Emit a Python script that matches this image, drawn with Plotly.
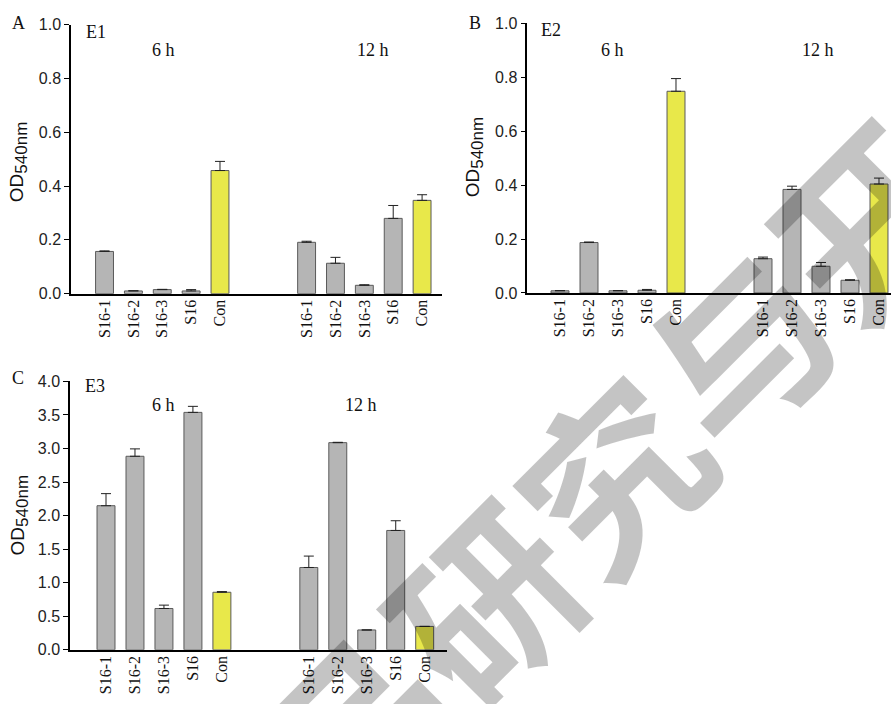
import plotly.graph_objects as go

W, H = 891, 704

# ---------------- data ----------------
samples = ["S16-1", "S16-2", "S16-3", "S16", "Con"]
times = ["6 h", "12 h"]

e1_6h = [0.157, 0.010, 0.015, 0.010, 0.458]
e1_6h_err = [0.002, 0.001, 0.001, 0.005, 0.034]
e1_12h = [0.191, 0.113, 0.031, 0.280, 0.347]
e1_12h_err = [0.004, 0.022, 0.002, 0.048, 0.021]

e2_6h = [0.008, 0.187, 0.008, 0.010, 0.748]
e2_6h_err = [0.001, 0.002, 0.001, 0.003, 0.047]
e2_12h = [0.127, 0.384, 0.099, 0.047, 0.404]
e2_12h_err = [0.006, 0.012, 0.014, 0.002, 0.022]

e3_6h = [2.148, 2.885, 0.616, 3.539, 0.858]
e3_6h_err = [0.18, 0.11, 0.05, 0.09, 0.01]
e3_12h = [1.227, 3.088, 0.296, 1.779, 0.349]
e3_12h_err = [0.17, 0.005, 0.0, 0.145, 0.0]

ticks_01 = [0.0, 0.2, 0.4, 0.6, 0.8, 1.0]
ticks_04 = [0.0, 0.5, 1.0, 1.5, 2.0, 2.5, 3.0, 3.5, 4.0]

# ---------------- styling ----------------
GRAY = "#b5b5b5"
YELLOW = "#e8e84a"
EDGE = "#5a5a5a"
SERIF = "Times New Roman, Liberation Serif, serif"
SANS = "Arial, Liberation Sans, sans-serif"

positions = list(range(len(samples))) + [i + len(samples) + 2 for i in range(len(samples))]
labels = samples + samples
colors = [YELLOW if s == "Con" else GRAY for s in labels]


def px(x, y):
    return x / W, 1 - y / H


fig = go.Figure()

panels = [
    (e1_6h, e1_6h_err, e1_12h, e1_12h_err, ""),
    (e2_6h, e2_6h_err, e2_12h, e2_12h_err, "2"),
    (e3_6h, e3_6h_err, e3_12h, e3_12h_err, "3"),
]

for v6, er6, v12, er12, sfx in panels:
    fig.add_trace(go.Bar(
        x=positions, y=v6 + v12,
        width=0.62,
        marker=dict(color=colors, line=dict(color=EDGE, width=1)),
        error_y=dict(type="data", symmetric=False, array=er6 + er12,
                     arrayminus=[0] * 10, color="#222", thickness=1, width=5),
        xaxis="x" + sfx, yaxis="y" + sfx, showlegend=False,
    ))

xcommon = dict(tickmode="array", tickvals=positions, ticktext=labels, tickangle=-90,
               showline=True, linecolor="black", linewidth=1.5, ticks="",
               ticklabelstandoff=-2, showgrid=False, zeroline=False,
               tickfont=dict(family=SERIF, size=16, color="#111"))
ycommon = dict(showline=True, linecolor="black", linewidth=1.5, ticks="outside",
               ticklen=5, tickwidth=1, tickcolor="black", showgrid=False, zeroline=False,
               tickformat=".1f", tickfont=dict(family=SANS, size=16, color="#222"))

fig.update_layout(
    xaxis=dict(xcommon, domain=[71 / W, 442 / W], range=[-1.161, 11.69], anchor="y"),
    yaxis=dict(ycommon, domain=[1 - 292.7 / H, 1 - 17.3 / H], range=[0, 1.0],
               tickvals=ticks_01, anchor="x"),
    xaxis2=dict(xcommon, domain=[527.3 / W, 1.0], range=[-1.128, 11.414], anchor="y2"),
    yaxis2=dict(ycommon, domain=[1 - 292 / H, 1 - 15.7 / H], range=[0, 1.0],
                tickvals=ticks_01, anchor="x2"),
    xaxis3=dict(xcommon, domain=[70 / W, 447 / W], range=[-1.243, 11.77], anchor="y3"),
    yaxis3=dict(ycommon, domain=[1 - 657.7 / H, 1 - 382.7 / H], range=[0, 4.0],
                tickvals=ticks_04, anchor="x3"),
)

ann = []


def text(x, y, s, size=17, family=SERIF, angle=0):
    xx, yy = px(x, y)
    ann.append(dict(x=xx, y=yy, xref="paper", yref="paper", text=s, showarrow=False,
                    xanchor="center", yanchor="middle", textangle=angle,
                    font=dict(family=family, size=size, color="#111")))


ytitle = "OD<sub><span style='font-size:17px'>540nm</span></sub>"

text(18, 15, "A", size=18)
text(96, 25, "E1", size=18)
text(163, 43, times[0], size=18)
text(373, 43, times[1], size=18)
text(18, 158, ytitle, size=19, family=SANS, angle=-90)

text(475, 15, "B", size=18)
text(551, 23, "E2", size=18)
text(612, 43, times[0], size=18)
text(818, 43, times[1], size=18)
text(474, 153, ytitle, size=19, family=SANS, angle=-90)

text(18, 379, "C", size=18)
text(95, 387, "E3", size=18)
text(163, 407, times[0], size=18)
text(361, 407, times[1], size=18)
text(19, 520, ytitle, size=19, family=SANS, angle=-90)

# watermark
wx, wy = px(608, 474)
ann.append(dict(x=wx, y=wy, xref="paper", yref="paper", text="<b>食品研究与开发</b>",
                showarrow=False, textangle=-45, xanchor="center", yanchor="middle",
                font=dict(family="Noto Sans CJK SC", size=180, color="rgba(0,0,0,0.23)")))

fig.update_layout(
    annotations=ann,
    width=W, height=H, autosize=False,
    margin=dict(l=0, r=0, t=0, b=0),
    paper_bgcolor="white", plot_bgcolor="rgba(0,0,0,0)",
    bargap=0.3,
)

post = """
document.documentElement.style.margin='0';
document.documentElement.style.padding='0';
document.documentElement.style.overflow='hidden';
document.body.style.margin='0';
document.body.style.padding='0';
document.body.style.overflow='hidden';
var gd = document.getElementById('{plot_id}');
gd.style.position='absolute'; gd.style.left='0px'; gd.style.top='0px';
gd.style.width='%dpx'; gd.style.height='%dpx';
Plotly.relayout(gd, {width: %d, height: %d});
""" % (W, H, W, H)

fig.write_html("out.html", config={"responsive": False, "displayModeBar": False},
               post_script=post)
